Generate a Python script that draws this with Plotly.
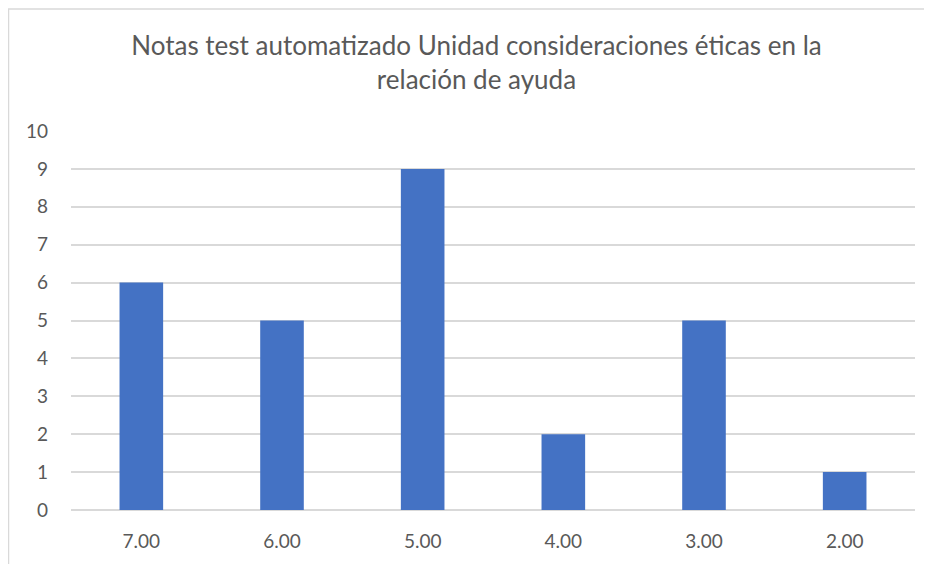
import plotly.graph_objects as go

notas = ["7.00", "6.00", "5.00", "4.00", "3.00", "2.00"]
cantidad = [6, 5, 9, 2, 5, 1]
titulo = "Notas test automatizado Unidad consideraciones éticas en la<br>relación de ayuda"

gris = "#595959"
linea = "#d9d9d9"

fig = go.Figure()
fig.add_trace(go.Bar(x=notas, y=cantidad, marker=dict(color="#4472C4", line=dict(width=0)),
                     width=0.31))

fig.update_layout(
    width=924, height=556,
    margin=dict(l=63, r=17, t=123, b=54, autoexpand=False),
    paper_bgcolor="white", plot_bgcolor="white",
    font=dict(family="Lato", color=gris, size=19),
    title=dict(text=titulo, x=0.507, xanchor="center", y=0.9155, yanchor="top",
               font=dict(family="Lato", size=26, color=gris)),
    showlegend=False,
    bargap=0.69,
)
fig.update_xaxes(type="category", showline=False, ticks="", showgrid=False, automargin=False,
                 ticklabelstandoff=18, tickfont=dict(size=19, color=gris))
fig.update_yaxes(range=[0, 10], dtick=1, showgrid=True, gridcolor=linea, gridwidth=1.5,
                 zeroline=True, zerolinecolor=linea, zerolinewidth=1.5, showline=False,
                 automargin=False, ticks="", ticklabelstandoff=22,
                 tickfont=dict(size=19, color=gris))

# borde del área del gráfico: sólo izquierda y arriba (el resto queda cortado)
x0 = -62.5 / 844
y1 = 1 + 122 / 379
fig.add_shape(type="path", xref="paper", yref="paper",
              path=f"M {x0},-0.5 L {x0},{y1} L 1.3,{y1}",
              line=dict(color=linea, width=1.5), layer="below")

fig.write_html("out.html")
